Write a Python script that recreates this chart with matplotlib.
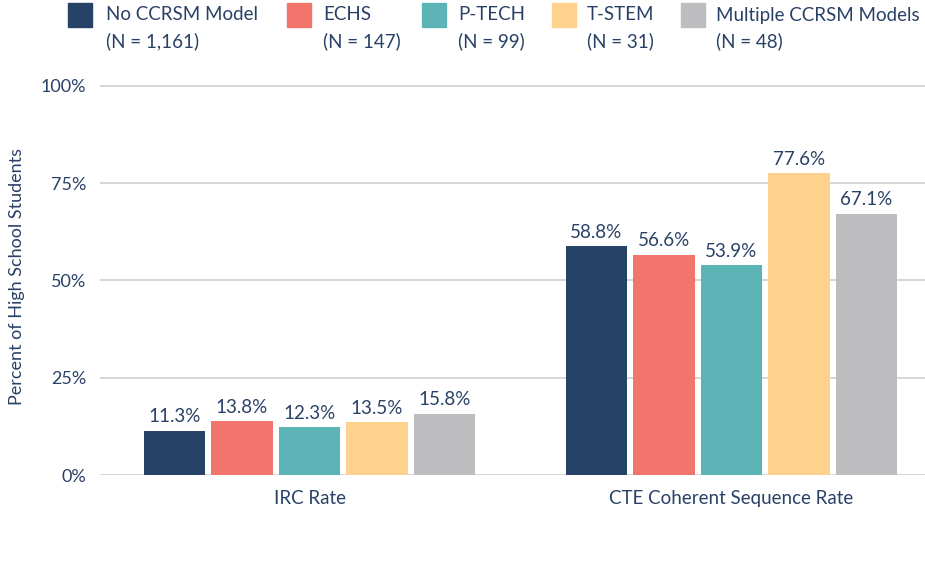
import numpy as np
import matplotlib
matplotlib.use('agg')
import matplotlib.pyplot as plt
from matplotlib.patches import Rectangle

plt.rcParams['font.family'] = ['Lato', 'DejaVu Sans']

groups = ["IRC Rate", "CTE Coherent Sequence Rate"]
models = ["No CCRSM Model", "ECHS", "P-TECH", "T-STEM", "Multiple CCRSM Models"]
counts = ["(N = 1,161)", "(N = 147)", "(N = 99)", "(N = 31)", "(N = 48)"]
irc = [11.3, 13.8, 12.3, 13.5, 15.8]
cte = [58.8, 56.6, 53.9, 77.6, 67.1]
colors = ["#264266", "#F2756D", "#5CB4B7", "#FED18C", "#BDBDBF"]
txt = "#2A4167"

W, H = 925, 562
fig = plt.figure(figsize=(W / 100, H / 100), dpi=100)
ax = fig.add_axes([100 / W, (H - 475) / H, 1 - 100 / W, 396.8 / H])

x = np.arange(len(groups))
pitch = 0.16
bw = 0.145
vals = np.array([irc, cte])
for i, m in enumerate(models):
    pos = x + (i - 2) * pitch
    bars = ax.bar(pos, vals[:, i], width=bw, color=colors[i], zorder=3)
    for b, v in zip(bars, vals[:, i]):
        ax.annotate(f"{v:.1f}%", (b.get_x() + b.get_width() / 2, v),
                    xytext=(0, 4), textcoords="offset points",
                    ha="center", va="bottom", fontsize=13.5, color=txt)

ax.set_xlim(-0.4965, 1.4585)
ax.set_ylim(0, 102)
ax.set_yticks([0, 25, 50, 75, 100])
ax.set_yticklabels(["0%", "25%", "50%", "75%", "100%"])
ax.set_xticks(x)
ax.set_xticklabels(groups)
ax.grid(axis="y", color="#CFCFCF", linewidth=1.2, zorder=0)
for s in ax.spines.values():
    s.set_visible(False)
ax.tick_params(axis="y", length=0, pad=10, labelsize=13, labelcolor=txt)
ax.tick_params(axis="x", length=0, pad=11, labelsize=13.5, labelcolor=txt)
ax.set_ylabel("Percent of High School Students", fontsize=13, color=txt, labelpad=11)

# legend across the top
sq_x = [68, 287, 422, 552, 681]
tx_x = [106, 323, 458, 587, 716]
for i in range(len(models)):
    fig.patches.append(Rectangle((sq_x[i] / W, 1 - 27 / H), 24 / W, 24 / H,
                                 transform=fig.transFigure, color=colors[i]))
    fig.text(tx_x[i] / W, 1 - 15 / H, models[i], fontsize=13.5, color=txt, va="center")
    fig.text(tx_x[i] / W, 1 - 41 / H, counts[i], fontsize=13.5, color=txt, va="center")

fig.savefig("out.png", dpi=100)
